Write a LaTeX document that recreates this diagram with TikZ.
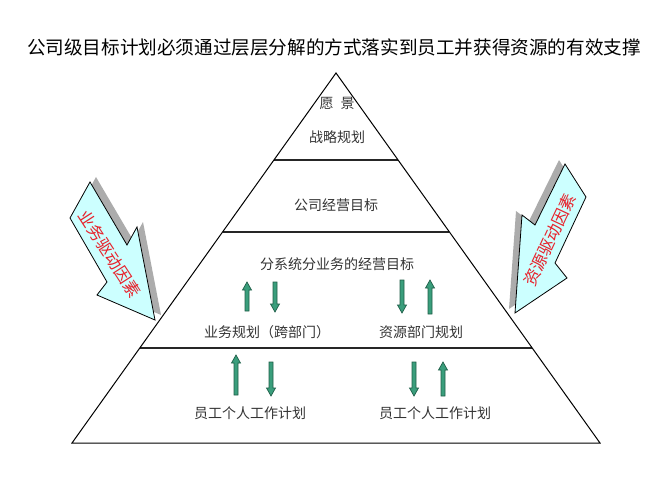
\documentclass[tikz,border=0pt]{standalone}
\usepackage{fontspec}
\newfontfamily\cjk{Noto Sans CJK SC}
\usetikzlibrary{calc}
\definecolor{gfill}{HTML}{3A9E7C}
\definecolor{gline}{HTML}{1F5E48}
\definecolor{cyanfill}{HTML}{CCFFFF}
\definecolor{redtxt}{HTML}{E8202A}
\definecolor{bodytxt}{HTML}{333333}
\newcommand\gup[3]{\filldraw[garrow] ({#1-2},#3) -- ({#1-2},{#2+8}) -- ({#1-4.5},{#2+8}) -- (#1,#2) -- ({#1+4.5},{#2+8}) -- ({#1+2},{#2+8}) -- ({#1+2},#3) -- cycle;}
\newcommand\gdown[3]{\filldraw[garrow] ({#1-2},#2) -- ({#1-2},{#3-8}) -- ({#1-4.5},{#3-8}) -- (#1,#3) -- ({#1+4.5},{#3-8}) -- ({#1+2},{#3-8}) -- ({#1+2},#2) -- cycle;}
\begin{document}
\begin{tikzpicture}[x=1pt,y=-1pt,
  garrow/.style={fill=gfill,draw=gline,line width=0.7pt,line join=miter},
  lvl/.style={font=\cjk\fontsize{14}{16}\selectfont,text=bodytxt,inner sep=0pt},
  side/.style={font=\cjk\fontsize{16.5}{18}\selectfont,text=redtxt,inner sep=0pt},
  bigarrow/.style={fill=cyanfill,draw=black,line width=0.8pt,line join=miter},
  shadowarrow/.style={fill=gray!65,draw=none},
  pyr/.style={draw=black,line width=1pt},
  tier/.style={draw=black!85,line width=1.6pt}]
\useasboundingbox (0,0) rectangle (667,500);
\node[font=\cjk\fontsize{18.6}{22}\selectfont,inner sep=0pt] (title) at (334,47) {公司级目标计划必须通过层层分解的方式落实到员工并获得资源的有效支撑};
% pyramid
\coordinate (A) at (336,73);
\coordinate (BL) at (72,443);
\coordinate (BR) at (600,443);
\draw[tier] ($(A)!0.2351!(BL)$) -- ($(A)!0.2351!(BR)$);
\draw[tier] ($(A)!0.4297!(BL)$) -- ($(A)!0.4297!(BR)$);
\draw[tier] ($(A)!0.7432!(BL)$) -- ($(A)!0.7432!(BR)$);
\draw[pyr,line join=miter] (A) -- (BL) -- (BR) -- cycle;
% texts
\node[lvl] (vision) at (337,103) {愿\hspace{0.5em}景};
\node[lvl] (strategy) at (337,137) {战略规划};
\node[lvl] (corp) at (336,205) {公司经营目标};
\node[lvl] (sub) at (337,264) {分系统分业务的经营目标};
\node[lvl] (biz) at (267,332) {业务规划（跨部门）};
\node[lvl] (res) at (421,332) {资源部门规划};
\node[lvl] (emp1) at (250,413) {员工个人工作计划};
\node[lvl] (emp2) at (435,413) {员工个人工作计划};
% green arrows
\gup{247}{282}{311}
\gdown{275}{282}{312}
\gdown{402}{280}{313}
\gup{430}{280}{314}
\gup{236}{355}{395}
\gdown{271}{362}{396}
\gdown{414}{362}{396}
\gup{443}{362}{396}
% left big arrow
\filldraw[shadowarrow,shift={(6,-5)}] (90,182) -- (127,245) -- (137,227) -- (155,320) -- (97,295) -- (107,282) -- (70,218) -- cycle;
\filldraw[bigarrow] (90,182) -- (127,245) -- (137,227) -- (155,320) -- (97,295) -- (107,282) -- (70,218) -- cycle;
\node[side,rotate=-57] (bizdrive) at (110,254) {业务驱动因素};
% right big arrow
\filldraw[shadowarrow,shift={(-6,-4)}] (565,164) -- (586,197) -- (555,263) -- (567,278) -- (515,313) -- (522,215) -- (535,225) -- cycle;
\filldraw[bigarrow] (565,164) -- (586,197) -- (555,263) -- (567,278) -- (515,313) -- (522,215) -- (535,225) -- cycle;
\node[side,rotate=65] (resdrive) at (550,240) {资源驱动因素};
\end{tikzpicture}
\end{document}
